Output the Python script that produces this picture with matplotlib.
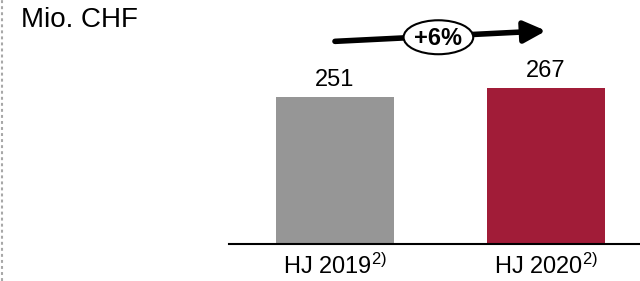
import matplotlib
matplotlib.use('Agg')
import matplotlib.pyplot as plt
from matplotlib.patches import Ellipse
from matplotlib.lines import Line2D

# ----- Datos -----
categorias = ['HJ 2019', 'HJ 2020']
nota = '2)'
valores = [251, 267]
colores = ['#969696', '#A11C38']
crecimiento = '+6%'
unidad = 'Mio. CHF'

plt.rcParams['font.family'] = ['Liberation Sans', 'DejaVu Sans']
plt.rcParams['mathtext.fontset'] = 'custom'
plt.rcParams['mathtext.rm'] = 'Liberation Sans'

fig = plt.figure(figsize=(6.4, 2.81), dpi=100)
# eje: de x=229px a 640px, base en y=244px
ax = fig.add_axes([229 / 640, 37 / 281, 411 / 640, 244 / 281])

x = list(range(len(valores)))
ax.bar(x, valores, width=0.56, color=colores, zorder=2)

for xi, v in zip(x, valores):
    ax.text(xi, v + 10, f'{v}', ha='center', va='bottom', fontsize=17)

ax.set_xlim(-0.502, 1.445)
ax.set_ylim(0, 416.6)
ax.set_xticks(x)
ax.set_xticklabels([f'{c}$\\mathregular{{^{{{nota}}}}}$' for c in categorias], fontsize=17)
ax.tick_params(axis='x', length=0, pad=7)
ax.set_yticks([])
for s in ['top', 'right', 'left']:
    ax.spines[s].set_visible(False)
ax.spines['bottom'].set_linewidth(1.5)
ax.patch.set_visible(False)

# flecha de crecimiento
ax.annotate('', xy=(1.0, 364), xytext=(0.0, 346),
            arrowprops=dict(arrowstyle='-|>,head_length=0.55,head_width=0.27',
                            lw=4, color='black', mutation_scale=24,
                            shrinkA=0, shrinkB=0),
            annotation_clip=False)
ax.add_patch(Ellipse((0.49, 353), width=0.33, height=58, facecolor='white',
                     edgecolor='black', lw=1.5, zorder=5, clip_on=False))
ax.text(0.49, 351, crecimiento, ha='center', va='center', fontsize=17,
        fontweight='bold', zorder=6)

fig.text(21 / 640, 1 - 20 / 281, unidad, fontsize=20, va='center', ha='left')

# línea punteada a la izquierda
fig.add_artist(Line2D([2 / 640, 2 / 640], [0, 1], transform=fig.transFigure,
                      color='#a8a8a8', lw=1.5, dashes=(1.4, 1.5)))

plt.savefig('out.png', dpi=100)
